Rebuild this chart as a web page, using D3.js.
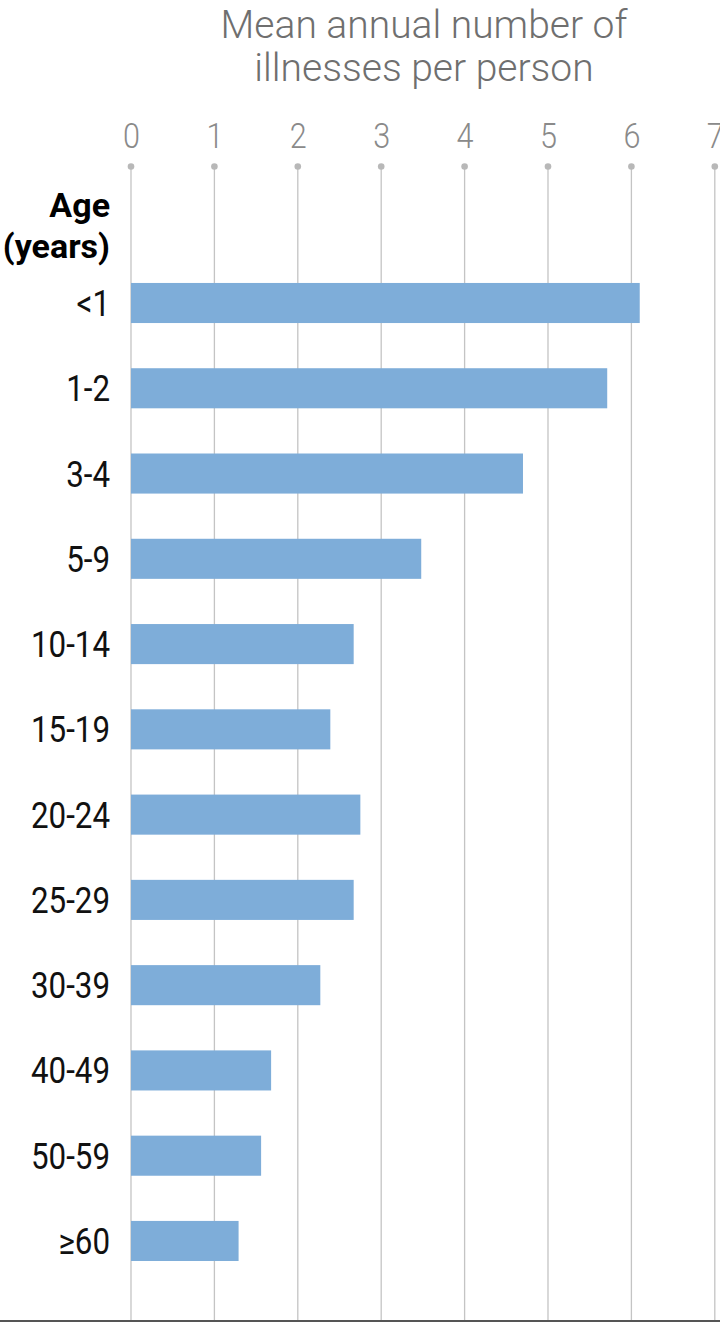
<!DOCTYPE html>
<html>
<head>
<meta charset="utf-8">
<script src="https://cdn.jsdelivr.net/npm/d3@7"></script>
<style>
html,body{margin:0;padding:0;background:#fff;}
svg{display:block;}
text{font-family:Roboto,"DejaVu Sans",sans-serif;}
</style>
</head>
<body>
<svg id="chart" width="720" height="1322"></svg>
<script>
const categories = ["<1","1-2","3-4","5-9","10-14","15-19","20-24","25-29","30-39","40-49","50-59","\u226560"];
const values = [6.10,5.71,4.70,3.48,2.67,2.39,2.75,2.67,2.27,1.68,1.56,1.29];
const tickValues = [0,1,2,3,4,5,6,7];
const titleLines = ["Mean annual number of","illnesses per person"];
const yLabelLines = ["Age","(years)"];

const svg = d3.select("#chart");
const W = 720, H = 1322;

const x = d3.scaleLinear().domain([0,7]).range([131,714.8]);
const step = 85.27;
const y = d3.scaleBand().domain(categories)
  .range([303 - step/2, 303 - step/2 + step*categories.length])
  .paddingInner(0.53).paddingOuter(0.265);

// gridlines
svg.append("g").selectAll("line").data(tickValues).join("line")
  .attr("x1", d=>x(d)).attr("x2", d=>x(d))
  .attr("y1", 166.5).attr("y2", 1320)
  .attr("stroke", "#c4c4c4").attr("stroke-width", 1.3);

// dots
svg.append("g").selectAll("circle").data(tickValues).join("circle")
  .attr("cx", d=>x(d)).attr("cy", 166.5).attr("r", 3.3)
  .attr("fill", "#b8b8b8");

// tick labels via axis
const axis = d3.axisTop(x).tickValues(tickValues).tickSize(0).tickPadding(0).tickFormat(d3.format("d"));
const ax = svg.append("g").attr("transform","translate(0,148)").call(axis);
ax.select(".domain").remove();
ax.selectAll("text").attr("font-size", 36).attr("fill", "#8a8a8a")
  .attr("font-family", 'Roboto,sans-serif').attr("font-weight", 300)
  .attr("dy", 0)
  .attr("transform", "scale(0.85,1)");

// title
svg.append("g").selectAll("text").data(titleLines).join("text")
  .attr("x", 424).attr("y", (d,i)=>38 + i*43)
  .attr("text-anchor","middle").attr("font-size", 39).attr("font-weight", 300).attr("fill","#6f6f6f")
  .text(d=>d);

// bars
svg.append("g").selectAll("rect").data(values).join("rect")
  .attr("x", x(0)).attr("y", (d,i)=>y(categories[i]))
  .attr("width", d=>x(d)-x(0)).attr("height", y.bandwidth())
  .attr("fill", "#7eadd9");

// category labels via axis
const yAxis = d3.axisLeft(y).tickSize(0).tickPadding(0);
const ay = svg.append("g").attr("transform","translate(110,0)").call(yAxis);
ay.select(".domain").remove();
ay.selectAll("text").attr("font-size", 36).attr("fill","#111")
  .attr("font-family", 'Roboto,sans-serif')
  .attr("dy","0.36em")
  .attr("transform","scale(0.87,1)");

// age label
svg.append("g").selectAll("text").data(yLabelLines).join("text")
  .attr("x", 110).attr("y", (d,i)=>217 + i*41)
  .attr("text-anchor","end").attr("font-size", 34).attr("font-weight","bold").attr("fill","#000")
  .text(d=>d);

// bottom line
svg.append("line").attr("x1",0).attr("x2",W).attr("y1",1321).attr("y2",1321)
  .attr("stroke","#555").attr("stroke-width",2);
</script>
</body>
</html>
